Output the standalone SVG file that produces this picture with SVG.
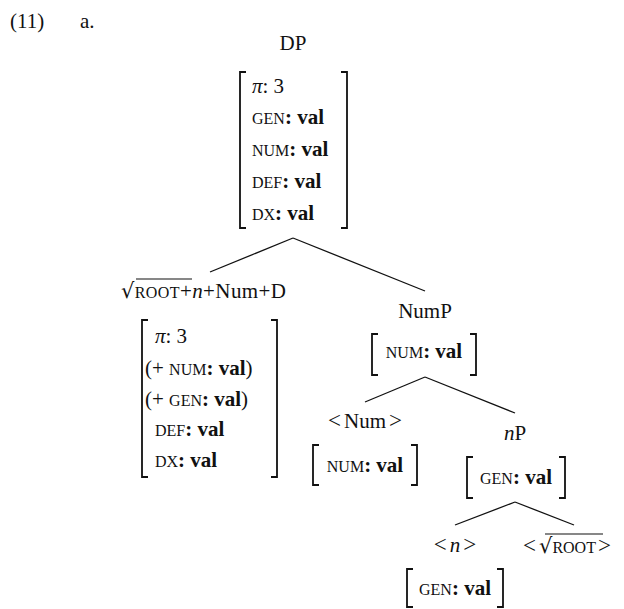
<svg xmlns="http://www.w3.org/2000/svg" width="624" height="609" viewBox="0 0 624 609">
<style>
text{font-family:"Liberation Serif","Times New Roman",serif;font-size:21px;fill:#111}
.sc{font-size:16px}
.b{font-weight:bold}
.i{font-style:italic}
.m{text-anchor:middle}
.rad{font-family:"DejaVu Serif",serif;font-size:21px}
.rel{font-size:23px}
.br{fill:none;stroke:#111;stroke-width:1.8}
.edge{stroke:#111;stroke-width:1.3;fill:none}
.vin{stroke:#111;stroke-width:1.1}
</style>
<rect width="624" height="609" fill="#fff"/>
<text x="10" y="28">(11)</text>
<text x="80" y="28">a.</text>

<g id="connectors">
<line class="edge" x1="293" y1="238" x2="210" y2="272"/>
<line class="edge" x1="293" y1="238" x2="425" y2="291"/>
<line class="edge" x1="425" y1="377" x2="365" y2="402"/>
<line class="edge" x1="425" y1="377" x2="515" y2="413"/>
<line class="edge" x1="515" y1="502" x2="455" y2="525"/>
<line class="edge" x1="515" y1="502" x2="574" y2="525"/>
</g>

<g id="DP">
<text class="m" x="293" y="50">DP</text>
<path class="br" d="M246 72 H240 V228 H246"/>
<path class="br" d="M341 72 H347 V228 H341"/>
<text x="252" y="93"><tspan class="i">π</tspan>: 3</text>
<text x="252" y="124"><tspan class="sc">GEN</tspan><tspan class="b">: val</tspan></text>
<text x="252" y="156"><tspan class="sc">NUM</tspan><tspan class="b">: val</tspan></text>
<text x="252" y="188"><tspan class="sc">DEF</tspan><tspan class="b">: val</tspan></text>
<text x="252" y="220"><tspan class="sc">DX</tspan><tspan class="b">: val</tspan></text>
</g>

<g id="D">
<text x="121" y="298" letter-spacing="0.4"><tspan class="rad">√</tspan><tspan class="sc">ROOT</tspan>+<tspan class="i">n</tspan>+Num+D</text>
<line class="vin" x1="136" y1="279" x2="192" y2="279"/>
<path class="br" d="M148 320 H142 V477 H148"/>
<path class="br" d="M271 320 H277 V477 H271"/>
<text x="155" y="343"><tspan class="i">π</tspan>: 3</text>
<text x="145" y="375">(+ <tspan class="sc">NUM</tspan><tspan class="b">: val</tspan>)</text>
<text x="145" y="406">(+ <tspan class="sc">GEN</tspan><tspan class="b">: val</tspan>)</text>
<text x="155" y="436"><tspan class="sc">DEF</tspan><tspan class="b">: val</tspan></text>
<text x="155" y="467"><tspan class="sc">DX</tspan><tspan class="b">: val</tspan></text>
</g>

<g id="NumP">
<text class="m" x="425" y="318">NumP</text>
<path class="br" d="M378 334 H372 V375 H378"/>
<path class="br" d="M470 334 H476 V375 H470"/>
<text class="m" x="424" y="358"><tspan class="sc">NUM</tspan><tspan class="b">: val</tspan></text>
</g>

<g id="Num">
<text class="m" x="365" y="428"><tspan class="rel">&lt;</tspan><tspan dx="3">Num</tspan><tspan class="rel" dx="3">&gt;</tspan></text>
<path class="br" d="M319 445 H313 V485 H319"/>
<path class="br" d="M411 445 H417 V485 H411"/>
<text class="m" x="365" y="472"><tspan class="sc">NUM</tspan><tspan class="b">: val</tspan></text>
</g>

<g id="nP">
<text class="m" x="515" y="440"><tspan class="i">n</tspan>P</text>
<path class="br" d="M473 457 H467 V498 H473"/>
<path class="br" d="M559 457 H565 V498 H559"/>
<text class="m" x="516" y="484"><tspan class="sc">GEN</tspan><tspan class="b">: val</tspan></text>
</g>

<g id="n">
<text class="m" x="455" y="552"><tspan class="rel">&lt;</tspan><tspan class="i" dx="3">n</tspan><tspan class="rel" dx="3">&gt;</tspan></text>
<path class="br" d="M413 569 H407 V607 H413"/>
<path class="br" d="M497 569 H503 V607 H497"/>
<text class="m" x="455" y="595"><tspan class="sc">GEN</tspan><tspan class="b">: val</tspan></text>
</g>

<g id="root">
<text x="523" y="553"><tspan class="rel">&lt;</tspan><tspan class="rad" dx="3">√</tspan><tspan class="sc">ROOT</tspan><tspan class="rel" dx="2">&gt;</tspan></text>
<line class="vin" x1="545" y1="534" x2="603" y2="534"/>
</g>
</svg>
